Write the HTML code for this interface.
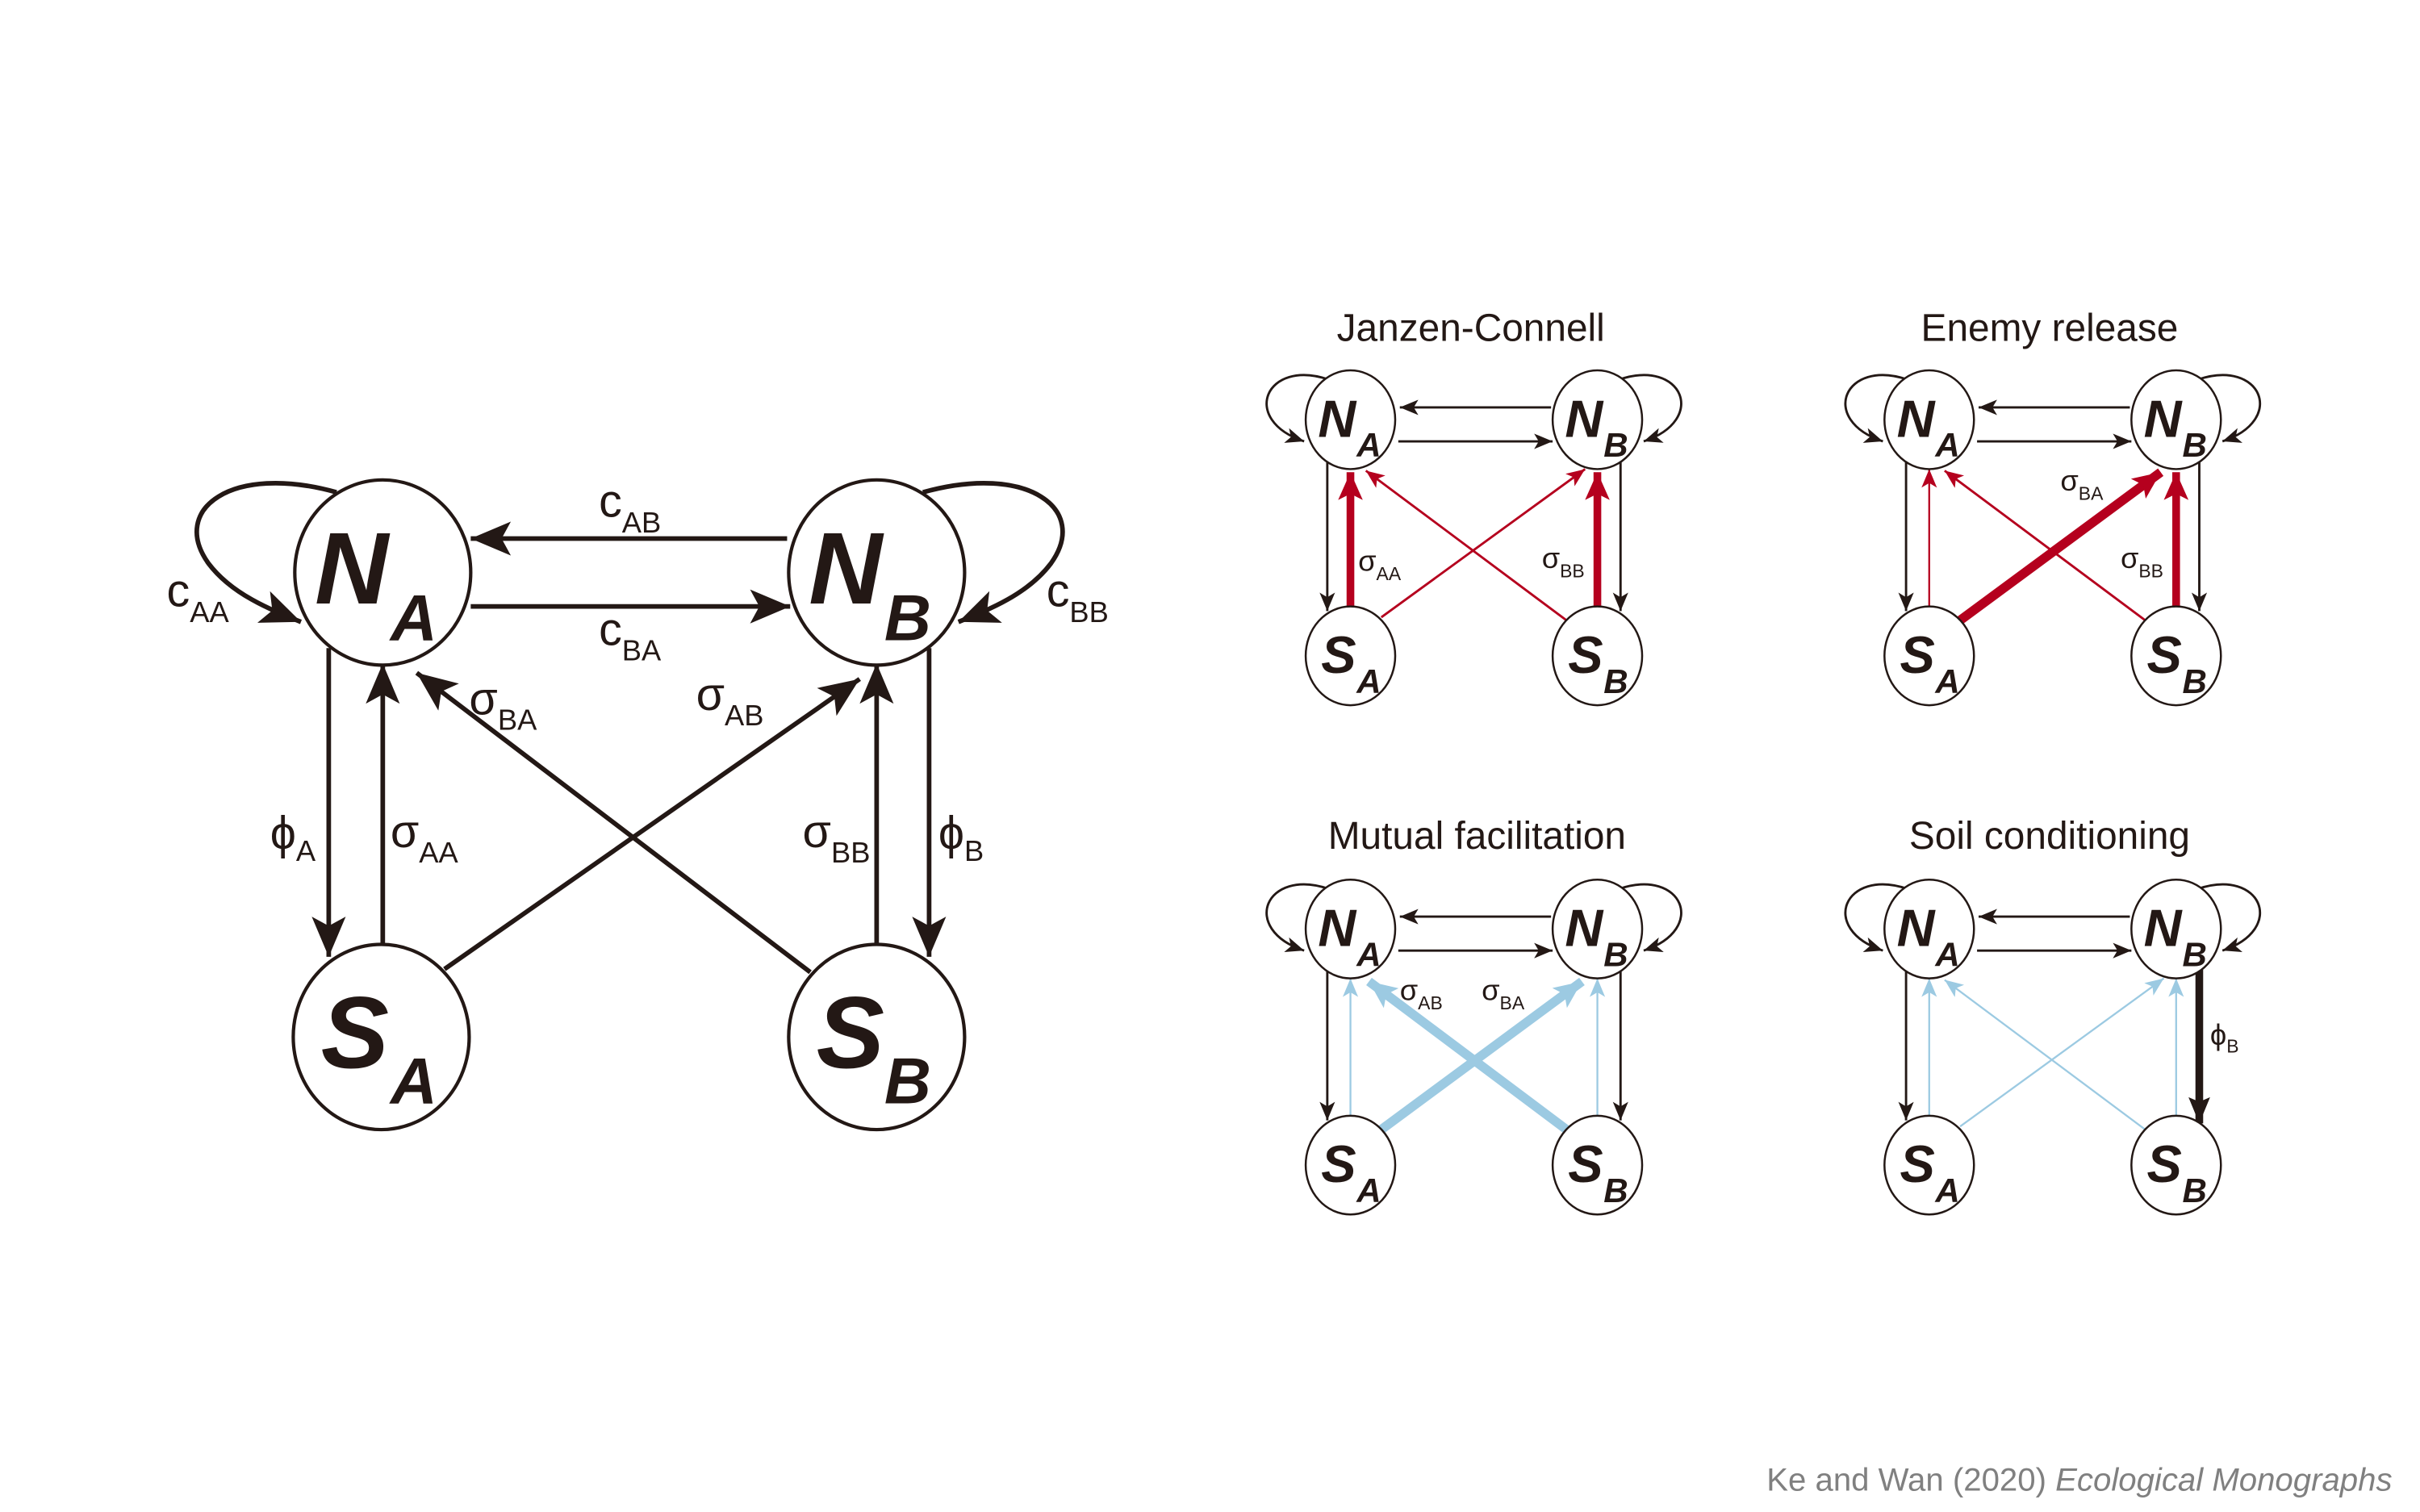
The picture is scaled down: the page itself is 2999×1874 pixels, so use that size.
<!DOCTYPE html>
<html><head><meta charset="utf-8"><style>
html,body{margin:0;padding:0;background:#fff;}
svg{display:block;}
text{font-family:"Liberation Sans",sans-serif;fill:#231815;}
.nd{font-weight:bold;font-style:italic;}
</style></head><body>
<svg width="2999" height="1874" viewBox="0 0 1568 979.8" xmlns="http://www.w3.org/2000/svg">
<defs>
<marker id="mM" markerUnits="userSpaceOnUse" markerWidth="32" markerHeight="26" refX="26" refY="11" orient="auto"><path d="M0,0 L26,11 L0,22 L6,11z" fill="#231815"/></marker>
<marker id="kS" markerUnits="userSpaceOnUse" markerWidth="16" markerHeight="12" refX="12" refY="5" orient="auto"><path d="M0,0 L12,5 L0,10 L3,5z" fill="#231815"/></marker>
<marker id="kL" markerUnits="userSpaceOnUse" markerWidth="20" markerHeight="18" refX="17" refY="7" orient="auto"><path d="M0,0 L17,7 L0,14 L3,7z" fill="#231815"/></marker>
<marker id="rS" markerUnits="userSpaceOnUse" markerWidth="16" markerHeight="12" refX="12" refY="5" orient="auto"><path d="M0,0 L12,5 L0,10 L3,5z" fill="#b5001e"/></marker>
<marker id="rL" markerUnits="userSpaceOnUse" markerWidth="22" markerHeight="18" refX="18" refY="8" orient="auto"><path d="M0,0 L18,8 L0,16 L4,8z" fill="#b5001e"/></marker>
<marker id="bS" markerUnits="userSpaceOnUse" markerWidth="16" markerHeight="12" refX="12" refY="5" orient="auto"><path d="M0,0 L12,5 L0,10 L3,5z" fill="#9ccae2"/></marker>
<marker id="bL" markerUnits="userSpaceOnUse" markerWidth="22" markerHeight="18" refX="18" refY="8" orient="auto"><path d="M0,0 L18,8 L0,16 L4,8z" fill="#9ccae2"/></marker>
</defs>

<!-- MAIN DIAGRAM -->
<g stroke="#231815" fill="none" stroke-width="3">
<path d="M218,319 C150,300 110,330 135,365 C150,385 175,395 195,403" marker-end="url(#mM)"/>
<path d="M598,319 C666,300 706,330 681,365 C666,385 641,395 621,403" marker-end="url(#mM)"/>
<line x1="510" y1="349" x2="305" y2="349" marker-end="url(#mM)"/>
<line x1="305" y1="393" x2="512" y2="393" marker-end="url(#mM)"/>
<line x1="213" y1="420" x2="213" y2="620" marker-end="url(#mM)"/>
<line x1="248" y1="612" x2="248" y2="430" marker-end="url(#mM)"/>
<line x1="602" y1="420" x2="602" y2="620" marker-end="url(#mM)"/>
<line x1="568" y1="612" x2="568" y2="430" marker-end="url(#mM)"/>
<line x1="525" y1="630" x2="270" y2="436" marker-end="url(#mM)"/>
<line x1="288" y1="628" x2="557" y2="440" marker-end="url(#mM)"/>
</g>
<g stroke="#231815" stroke-width="2.2" fill="#fff">
<ellipse cx="248" cy="371" rx="57" ry="60"/>
<ellipse cx="568" cy="371" rx="57" ry="60"/>
<ellipse cx="247" cy="672" rx="57" ry="60"/>
<ellipse cx="568" cy="672" rx="57" ry="60"/>
</g>
<g class="nd">
<text x="204" y="391" font-size="66">N</text><text x="253" y="415" font-size="42">A</text>
<text x="524" y="391" font-size="66">N</text><text x="573" y="415" font-size="42">B</text>
<text x="208" y="692" font-size="66">S</text><text x="253" y="715" font-size="42">A</text>
<text x="529" y="692" font-size="66">S</text><text x="573" y="715" font-size="42">B</text>
</g>
<g font-size="30">
<text x="108" y="393">c<tspan font-size="19" dy="10">AA</tspan></text>
<text x="388" y="335">c<tspan font-size="19" dy="10">AB</tspan></text>
<text x="388" y="418">c<tspan font-size="19" dy="10">BA</tspan></text>
<text x="678" y="393">c<tspan font-size="19" dy="10">BB</tspan></text>
<text x="304" y="463">σ<tspan font-size="19" dy="10">BA</tspan></text>
<text x="451" y="460">σ<tspan font-size="19" dy="10">AB</tspan></text>
<text x="175" y="550">ϕ<tspan font-size="19" dy="8">A</tspan></text>
<text x="253" y="549">σ<tspan font-size="19" dy="10">AA</tspan></text>
<text x="520" y="549">σ<tspan font-size="19" dy="10">BB</tspan></text>
<text x="608" y="550">ϕ<tspan font-size="19" dy="8">B</tspan></text>
</g>

<!-- Titles -->
<g font-size="25" text-anchor="middle">
<text x="953" y="221">Janzen-Connell</text>
<text x="1328" y="221">Enemy release</text>
<text x="957" y="550">Mutual facilitation</text>
<text x="1328" y="550">Soil conditioning</text>
</g>

<!-- Panel 1: Janzen-Connell -->
<g transform="translate(875,272)">
<g fill="none" stroke-width="1.5">
<g stroke="#231815">
<path d="M-14,-26 C-55,-40 -72,0 -30,14" marker-end="url(#kS)"/>
<path d="M174,-26 C215,-40 232,0 190,14" marker-end="url(#kS)"/>
<line x1="130" y1="-8" x2="32" y2="-8" marker-end="url(#kS)"/>
<line x1="31" y1="14" x2="131" y2="14" marker-end="url(#kS)"/>
<line x1="-15" y1="26" x2="-15" y2="124" marker-end="url(#kS)"/>
<line x1="175" y1="26" x2="175" y2="124" marker-end="url(#kS)"/>
</g>
<g stroke="#b5001e">
<line x1="140" y1="130" x2="10" y2="33" marker-end="url(#rS)"/>
<line x1="20" y1="128" x2="152" y2="32" marker-end="url(#rS)"/>
<line x1="0" y1="124" x2="0" y2="34" stroke-width="5" marker-end="url(#rL)"/>
<line x1="160" y1="124" x2="160" y2="34" stroke-width="5" marker-end="url(#rL)"/>
</g>
</g>
<g stroke="#231815" stroke-width="1.3" fill="#fff">
<ellipse cx="0" cy="0" rx="29" ry="32"/><ellipse cx="160" cy="0" rx="29" ry="32"/>
<ellipse cx="0" cy="153" rx="29" ry="32"/><ellipse cx="160" cy="153" rx="29" ry="32"/>
</g>
<g class="nd">
<text x="-21" y="11" font-size="34">N</text><text x="4" y="24" font-size="22">A</text>
<text x="139" y="11" font-size="34">N</text><text x="164" y="24" font-size="22">B</text>
<text x="-19" y="164" font-size="34">S</text><text x="4" y="177" font-size="22">A</text>
<text x="141" y="164" font-size="34">S</text><text x="164" y="177" font-size="22">B</text>
</g>
<g font-size="19">
<text x="5" y="98">σ<tspan font-size="12" dy="6">AA</tspan></text>
<text x="124" y="96">σ<tspan font-size="12" dy="6">BB</tspan></text>
</g>
</g>

<!-- Panel 2: Enemy release -->
<g transform="translate(1250,272)">
<g fill="none" stroke-width="1.5">
<g stroke="#231815">
<path d="M-14,-26 C-55,-40 -72,0 -30,14" marker-end="url(#kS)"/>
<path d="M174,-26 C215,-40 232,0 190,14" marker-end="url(#kS)"/>
<line x1="130" y1="-8" x2="32" y2="-8" marker-end="url(#kS)"/>
<line x1="31" y1="14" x2="131" y2="14" marker-end="url(#kS)"/>
<line x1="-15" y1="26" x2="-15" y2="124" marker-end="url(#kS)"/>
<line x1="175" y1="26" x2="175" y2="124" marker-end="url(#kS)"/>
</g>
<g stroke="#b5001e">
<line x1="140" y1="130" x2="10" y2="33" marker-end="url(#rS)"/>
<line x1="0" y1="124" x2="0" y2="32" stroke-width="1.2" marker-end="url(#rS)"/>
<line x1="20" y1="130" x2="150" y2="34" stroke-width="6" marker-end="url(#rL)"/>
<line x1="160" y1="124" x2="160" y2="34" stroke-width="5" marker-end="url(#rL)"/>
</g>
</g>
<g stroke="#231815" stroke-width="1.3" fill="#fff">
<ellipse cx="0" cy="0" rx="29" ry="32"/><ellipse cx="160" cy="0" rx="29" ry="32"/>
<ellipse cx="0" cy="153" rx="29" ry="32"/><ellipse cx="160" cy="153" rx="29" ry="32"/>
</g>
<g class="nd">
<text x="-21" y="11" font-size="34">N</text><text x="4" y="24" font-size="22">A</text>
<text x="139" y="11" font-size="34">N</text><text x="164" y="24" font-size="22">B</text>
<text x="-19" y="164" font-size="34">S</text><text x="4" y="177" font-size="22">A</text>
<text x="141" y="164" font-size="34">S</text><text x="164" y="177" font-size="22">B</text>
</g>
<g font-size="19">
<text x="85" y="46">σ<tspan font-size="12" dy="6">BA</tspan></text>
<text x="124" y="96">σ<tspan font-size="12" dy="6">BB</tspan></text>
</g>
</g>

<!-- Panel 3: Mutual facilitation -->
<g transform="translate(875,602)">
<g fill="none" stroke-width="1.5">
<g stroke="#231815">
<path d="M-14,-26 C-55,-40 -72,0 -30,14" marker-end="url(#kS)"/>
<path d="M174,-26 C215,-40 232,0 190,14" marker-end="url(#kS)"/>
<line x1="130" y1="-8" x2="32" y2="-8" marker-end="url(#kS)"/>
<line x1="31" y1="14" x2="131" y2="14" marker-end="url(#kS)"/>
<line x1="-15" y1="26" x2="-15" y2="124" marker-end="url(#kS)"/>
<line x1="175" y1="26" x2="175" y2="124" marker-end="url(#kS)"/>
</g>
<g stroke="#9ccae2">
<line x1="0" y1="124" x2="0" y2="32" stroke-width="1.2" marker-end="url(#bS)"/>
<line x1="160" y1="124" x2="160" y2="32" stroke-width="1.2" marker-end="url(#bS)"/>
<line x1="140" y1="130" x2="12" y2="34" stroke-width="6" marker-end="url(#bL)"/>
<line x1="20" y1="130" x2="150" y2="34" stroke-width="6" marker-end="url(#bL)"/>
</g>
</g>
<g stroke="#231815" stroke-width="1.3" fill="#fff">
<ellipse cx="0" cy="0" rx="29" ry="32"/><ellipse cx="160" cy="0" rx="29" ry="32"/>
<ellipse cx="0" cy="153" rx="29" ry="32"/><ellipse cx="160" cy="153" rx="29" ry="32"/>
</g>
<g class="nd">
<text x="-21" y="11" font-size="34">N</text><text x="4" y="24" font-size="22">A</text>
<text x="139" y="11" font-size="34">N</text><text x="164" y="24" font-size="22">B</text>
<text x="-19" y="164" font-size="34">S</text><text x="4" y="177" font-size="22">A</text>
<text x="141" y="164" font-size="34">S</text><text x="164" y="177" font-size="22">B</text>
</g>
<g font-size="19">
<text x="32" y="46">σ<tspan font-size="12" dy="6">AB</tspan></text>
<text x="85" y="46">σ<tspan font-size="12" dy="6">BA</tspan></text>
</g>
</g>

<!-- Panel 4: Soil conditioning -->
<g transform="translate(1250,602)">
<g fill="none" stroke-width="1.5">
<g stroke="#231815">
<path d="M-14,-26 C-55,-40 -72,0 -30,14" marker-end="url(#kS)"/>
<path d="M174,-26 C215,-40 232,0 190,14" marker-end="url(#kS)"/>
<line x1="130" y1="-8" x2="32" y2="-8" marker-end="url(#kS)"/>
<line x1="31" y1="14" x2="131" y2="14" marker-end="url(#kS)"/>
<line x1="-15" y1="26" x2="-15" y2="124" marker-end="url(#kS)"/>
<line x1="175" y1="26" x2="175" y2="126" stroke-width="5" marker-end="url(#kL)"/>
</g>
<g stroke="#9ccae2" stroke-width="1.2">
<line x1="0" y1="124" x2="0" y2="32" marker-end="url(#bS)"/>
<line x1="160" y1="124" x2="160" y2="32" marker-end="url(#bS)"/>
<line x1="140" y1="130" x2="10" y2="33" marker-end="url(#bS)"/>
<line x1="20" y1="128" x2="152" y2="32" marker-end="url(#bS)"/>
</g>
</g>
<g stroke="#231815" stroke-width="1.3" fill="#fff">
<ellipse cx="0" cy="0" rx="29" ry="32"/><ellipse cx="160" cy="0" rx="29" ry="32"/>
<ellipse cx="0" cy="153" rx="29" ry="32"/><ellipse cx="160" cy="153" rx="29" ry="32"/>
</g>
<g class="nd">
<text x="-21" y="11" font-size="34">N</text><text x="4" y="24" font-size="22">A</text>
<text x="139" y="11" font-size="34">N</text><text x="164" y="24" font-size="22">B</text>
<text x="-19" y="164" font-size="34">S</text><text x="4" y="177" font-size="22">A</text>
<text x="141" y="164" font-size="34">S</text><text x="164" y="177" font-size="22">B</text>
</g>
<g font-size="19">
<text x="182" y="75">ϕ<tspan font-size="12" dy="5">B</tspan></text>
</g>
</g>

<text x="1550" y="966" font-size="21" text-anchor="end" style="fill:#808080">Ke and Wan (2020) <tspan font-style="italic">Ecological Monographs</tspan></text>
</svg>
</body></html>
